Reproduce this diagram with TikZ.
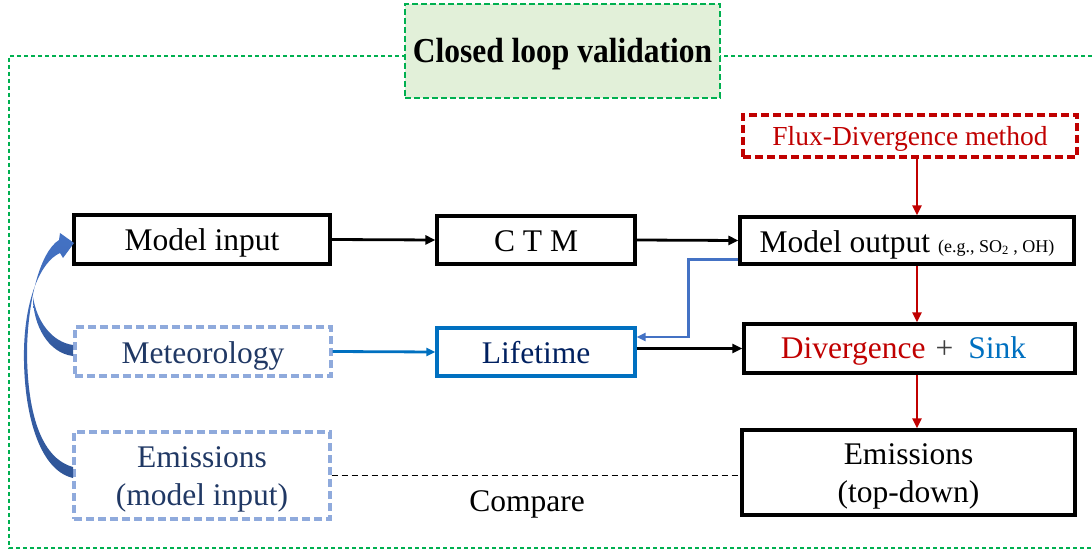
\documentclass[tikz,border=0pt]{standalone}
\usepackage{fontspec}
\setmainfont{Liberation Serif}
\usetikzlibrary{arrows.meta,calc}
\definecolor{gframe}{HTML}{00B050}
\definecolor{gfill}{HTML}{E2F0D9}
\definecolor{dred}{HTML}{C00000}
\definecolor{lblue}{HTML}{8FAADC}
\definecolor{mblue}{HTML}{0070C0}
\definecolor{pblue}{HTML}{4472C4}
\definecolor{dblue}{HTML}{2F5597}
\definecolor{navy}{HTML}{203864}
\definecolor{lnavy}{HTML}{002060}
\definecolor{pgray}{HTML}{404040}
\newcommand{\bigfont}{\fontsize{31.5}{38}\selectfont}
\begin{document}
\begin{tikzpicture}[x=1pt,y=-1pt,
  box/.style={draw, line width=3.2pt, inner sep=0pt, font=\bigfont, align=center, text height=29pt, text depth=6pt},
  twoline/.style={text height=63pt, text depth=4pt},
  blkbox/.style={box, draw=black},
  dashbox/.style={box, draw=lblue, dash pattern=on 8pt off 4pt, text=navy},
  redbox/.style={box, draw=dred, dash pattern=on 8pt off 4pt, text=dred, font=\fontsize{27.5}{33}\selectfont, text height=26pt, text depth=6pt},
  blkarrow/.style={line width=2.8pt, -{Triangle[length=10pt,width=9pt]}},
  redarrow/.style={blkarrow, draw=dred},
  bluearrow/.style={line width=2.8pt, draw=mblue, -{Triangle[length=9pt,width=8pt]}},
  pbluearrow/.style={line width=2.8pt, draw=pblue, -{Triangle[length=9pt,width=8pt]}},
]
\useasboundingbox (0,0) rectangle (1092,556);
% outer frame
\draw[gframe, line width=1.8pt, dash pattern=on 4pt off 3pt] (1120,56) -- (9,56) -- (9,548) -- (1120,548);
% title
\node[draw=gframe, fill=gfill, line width=2.2pt, dash pattern=on 6pt off 3pt, minimum width=315pt, minimum height=94pt, inner sep=0pt, text height=31.6pt, text depth=7.6pt, font=\fontsize{35}{40}\selectfont\bfseries] (title) at (562.5,51) {\scalebox{0.9}[1]{Closed loop validation}};
% nodes
\node[blkbox, minimum width=256pt, minimum height=49pt] (minput) at (202,239.5) {Model input};
\node[blkbox, minimum width=198pt, minimum height=48pt] (ctm) at (536,240) {C T M};
\node[blkbox, minimum width=334pt, minimum height=47pt] (mout) at (907,240.5) {Model output {\fontsize{18}{20}\selectfont(e.g., SO\textsubscript{2} , OH)}};
\node[redbox, minimum width=334pt, minimum height=42pt] (flux) at (910,136) {Flux-Divergence method};
\node[dashbox, minimum width=256pt, minimum height=49pt] (met) at (203,351.5) {Meteorology};
\node[box, draw=mblue, text=lnavy, minimum width=198pt, minimum height=48pt] (life) at (536,352) {Lifetime};
\node[blkbox, minimum width=331pt, minimum height=49pt, text height=25pt] (div) at (909.5,348.5) {\textcolor{dred}{Divergence}\hspace{10pt}\textcolor{pgray}{+}\hspace{15pt}\textcolor{mblue}{Sink}\hspace*{12pt}};
\node[dashbox, twoline, minimum width=256pt, minimum height=87pt] (emin) at (202,475.5) {Emissions\\(model input)};
\node[blkbox, twoline, minimum width=333pt, minimum height=85pt] (emtd) at (908.5,472.5) {Emissions\\(top-down)};
\node[font=\bigfont, inner sep=0pt, text height=29pt, text depth=6pt] (cmp) at (527,500) {Compare};
\coordinate (cx) at (917,0);
% connectors
\draw[blkarrow] (minput.east) -- (ctm.west);
\draw[blkarrow] (ctm.east) -- (mout.west);
\draw[redarrow] (flux.south -| cx) -- (mout.north -| cx);
\draw[redarrow] (mout.south -| cx) -- (div.north -| cx);
\draw[redarrow] (div.south -| cx) -- (emtd.north -| cx);
\draw[pbluearrow] ($(mout.south west)+(0,-6)$) -| ($(life.east)+(52,-15)$) -- ($(life.east)+(0,-15)$);
\draw[blkarrow] (div.west -| life.east) -- (div.west);
\draw[bluearrow] (met.east) -- (life.west);
\draw[line width=1.8pt, dash pattern=on 6pt off 4pt] (emin.east) -- (emin.east -| emtd.west);
% curved arrows
\shade[top color=pblue, bottom color=dblue]
  (73,478) .. controls (38,470) and (23,410) .. (24,350)
  .. controls (25,300) and (40,262) .. (60,253)
  -- (63,258) -- (74,243) -- (60,233) -- (59,240)
  .. controls (40,252) and (28,300) .. (27,350)
  .. controls (27,410) and (40,458) .. (73,467) -- cycle;
\shade[top color=pblue, bottom color=dblue]
  (73,356) .. controls (48,353) and (33,325) .. (33,297)
  .. controls (37,322) and (52,342) .. (73,345) -- cycle;
\end{tikzpicture}
\end{document}
